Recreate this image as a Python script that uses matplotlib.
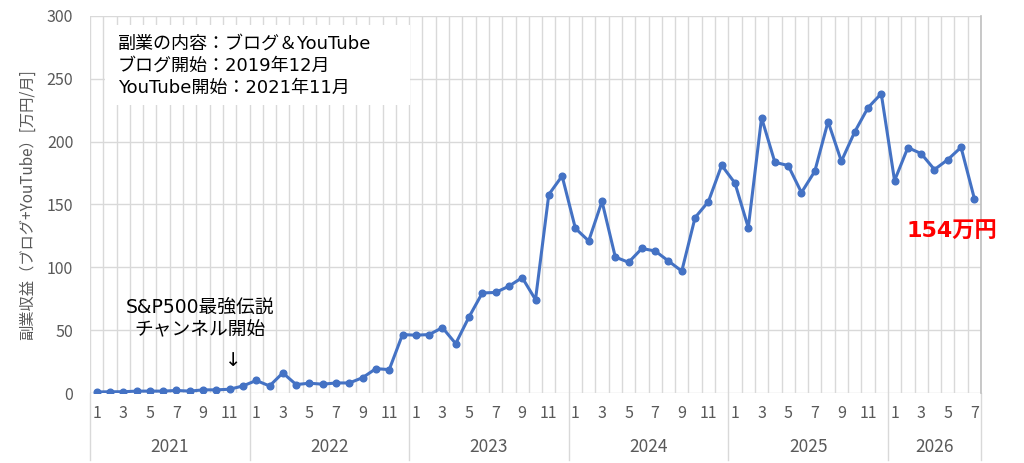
import matplotlib
matplotlib.use("Agg")
import matplotlib.pyplot as plt
from matplotlib.patches import Rectangle
import matplotlib.transforms as mtransforms

plt.rcParams['font.family'] = ['Noto Sans CJK JP', 'DejaVu Sans']
WIDE = ['DejaVu Sans', 'Noto Sans CJK JP']

years = [2021, 2022, 2023, 2024, 2025, 2026]
months_per_year = [12, 12, 12, 12, 12, 7]
values = [
    # 2021
    0.8, 1.0, 1.0, 1.5, 1.5, 1.5, 2.0, 1.5, 2.5, 2.5, 3.0, 5.6,
    # 2022
    10.0, 5.6, 16.0, 6.7, 7.8, 7.0, 8.0, 8.0, 12.2, 19.4, 18.6, 46.5,
    # 2023
    46.0, 46.5, 52.0, 39.3, 60.5, 79.6, 80.0, 85.0, 91.8, 74.3, 157.9, 172.7,
    # 2024
    131.0, 121.0, 152.5, 108.2, 104.0, 115.0, 113.0, 105.0, 97.0, 139.6, 152.3, 181.2,
    # 2025
    167.0, 131.6, 219.0, 183.6, 181.0, 159.5, 176.4, 216.0, 184.4, 207.7, 227.0, 238.2,
    # 2026
    169.0, 195.3, 190.5, 177.8, 185.7, 195.5, 154.7,
]
month_labels = []
for n in months_per_year:
    month_labels += [str(m) if m % 2 == 1 else "" for m in range(1, n + 1)]

info_lines = ["副業の内容：ブログ＆YouTube", "ブログ開始：2019年12月", "YouTube開始：2021年11月"]
note_lines = ["S&P500最強伝説", "チャンネル開始"]
last_label = "154万円"
ylabel = "副業収益（ブログ+YouTube）[万円/月]"

fig = plt.figure(figsize=(10.24, 4.63), dpi=100)
ax = fig.add_axes([90/1024, 1-393/463, (981-90)/1024, (393-16)/463])

n = len(values)
x = list(range(n))
grid_c = "#d9d9d9"
ax.set_xlim(-0.5, n - 0.5)
ax.set_ylim(0, 300)
for k in range(n + 1):
    ax.axvline(k - 0.5, color=grid_c, lw=1.0, zorder=0)
for yv in range(0, 301, 50):
    ax.axhline(yv, color=grid_c, lw=1.0, zorder=0)

for s in ['top', 'left', 'bottom']:
    ax.spines[s].set_visible(False)
ax.spines['right'].set_color("#bfbfbf")
ax.spines['right'].set_linewidth(1.2)

ax.plot(x, values, color="#4472C4", lw=2.2, marker='o', markersize=4.8, zorder=3)

ax.set_yticks(range(0, 301, 50))
ax.tick_params(axis='y', length=0, pad=12, labelsize=11.5, labelcolor="#595959")
ax.set_xticks(x)
ax.set_xticklabels(month_labels)
ax.tick_params(axis='x', length=0, pad=9, labelsize=11.5, labelcolor="#595959")

ax.set_ylabel(ylabel, fontsize=11, color="#595959", labelpad=8)

# year labels and separators
trans = mtransforms.blended_transform_factory(ax.transData, ax.transAxes)
start = 0
sep_c = "#d9d9d9"
ax.plot([-0.5, -0.5], [0, -0.178], transform=trans, color=sep_c, lw=1.0, clip_on=False)
for yr, nm in zip(years, months_per_year):
    end = start + nm
    ax.text((start + end - 1) / 2, -0.144, str(yr), transform=trans, ha='center', va='center',
            fontsize=12.5, color="#595959")
    ax.plot([end - 0.5, end - 0.5], [0, -0.178], transform=trans, color=sep_c, lw=1.0, clip_on=False)
    start = end

# info box
ax.add_patch(Rectangle((0.63, 229), 22.93, 63.6, facecolor='white', edgecolor='none', zorder=1))
for i, t in enumerate(info_lines):
    ax.text(1.6, 278.2 - i * 17.9, t, ha='left', va='center', fontsize=13, color='black',
            zorder=2, family=WIDE)

ax.text(7.77, 68, note_lines[0], ha='center', va='center', fontsize=13.5, color='black',
        zorder=2, family=WIDE)
ax.text(7.77, 50, note_lines[1], ha='center', va='center', fontsize=13.5, color='black',
        zorder=2, family=WIDE)
ax.text(10.25, 26, "↓", ha='center', va='center', fontsize=14, color='black', zorder=2,
        family=['DejaVu Sans'])

ax.text(64.3, 128, last_label, ha='center', va='center', fontsize=16, fontweight='bold',
        color='#ff0000', zorder=4, clip_on=False, family=WIDE)

fig.savefig("out.png", dpi=100)
